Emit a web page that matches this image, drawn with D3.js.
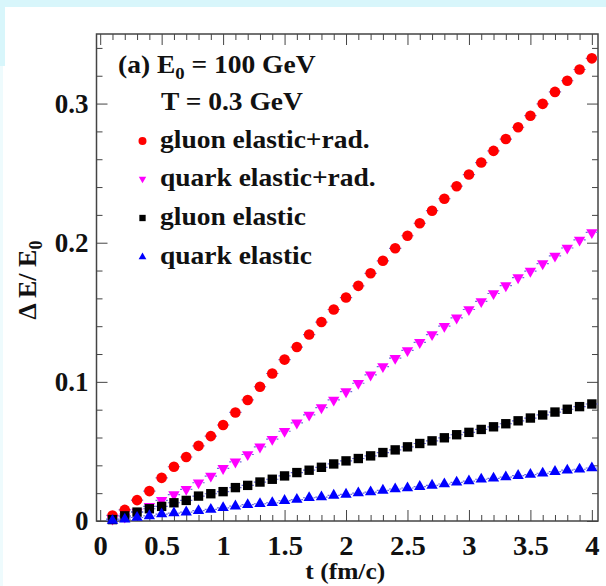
<!DOCTYPE html>
<html>
<head>
<meta charset="utf-8">
<script src="https://cdn.jsdelivr.net/npm/d3@7"></script>
<style>
body { margin: 0; background: #fff; }
svg text { font-family: "Liberation Serif", "Times New Roman", serif; font-weight: bold; fill: #111; }
</style>
</head>
<body>
<div id="chart"></div>
<script>

// t (fm/c) of each point
var tValues = [0.1,0.2,0.3,0.4,0.5,0.6,0.7,0.8,0.9,1.0,
               1.1,1.2,1.3,1.4,1.5,1.6,1.7,1.8,1.9,2.0,
               2.1,2.2,2.3,2.4,2.5,2.6,2.7,2.8,2.9,3.0,
               3.1,3.2,3.3,3.4,3.5,3.6,3.7,3.8,3.9,4.0];

// Delta E / E0
var gluonRad = [0.004,0.008,0.015,0.0215,0.031,0.039,0.046,0.054,0.061,0.069,
                0.078,0.087,0.0965,0.106,0.116,0.125,0.134,0.143,0.152,0.1606,
                0.169,0.178,0.187,0.196,0.205,0.214,0.223,0.2316,0.2406,0.249,
                0.2576,0.266,0.2745,0.283,0.2913,0.2998,0.3084,0.3164,0.3245,0.3325];
var quarkRad = [0.0015,0.003,0.0065,0.0105,0.0148,0.019,0.0228,0.0275,0.0323,0.0378,
                0.0425,0.0478,0.0533,0.0588,0.0645,0.0705,0.0762,0.0815,0.087,0.093,
                0.099,0.105,0.111,0.117,0.1226,0.1284,0.134,0.14,0.146,0.152,
                0.1578,0.1635,0.1692,0.1749,0.1796,0.185,0.1905,0.1962,0.202,0.2074];
var gluonEl = [0.001,0.0037,0.0064,0.0088,0.0105,0.0131,0.0148,0.0179,0.0196,0.0211,
               0.024,0.0256,0.028,0.03,0.0324,0.0348,0.0365,0.0386,0.041,0.0432,
               0.0449,0.0468,0.0492,0.0511,0.0533,0.0557,0.0576,0.0598,0.062,0.0637,
               0.0658,0.0677,0.0699,0.072,0.074,0.0762,0.0783,0.0803,0.0822,0.0841];
var quarkEl = [0.0004,0.0013,0.0025,0.0037,0.005,0.0057,0.0064,0.0074,0.0083,0.0095,
               0.0107,0.0117,0.0124,0.0131,0.0146,0.0154,0.0167,0.0172,0.0184,0.0191,
               0.0201,0.0208,0.022,0.023,0.0237,0.0247,0.0256,0.0266,0.0278,0.0287,
               0.03,0.0307,0.0316,0.0326,0.0334,0.0343,0.0355,0.0365,0.0372,0.0381];

var seriesNames = ["gluon elastic+rad.", "quark elastic+rad.", "gluon elastic", "quark elastic"];
var seriesColors = ["#ff0000", "#ff00ff", "#000000", "#0000ff"];

var xTicks = [0, 0.5, 1, 1.5, 2, 2.5, 3, 3.5, 4];
var xTickLabels = ["0", "0.5", "1", "1.5", "2", "2.5", "3", "3.5", "4"];
var yTicks = [0, 0.1, 0.2, 0.3];
var yTickLabels = ["0", "0.1", "0.2", "0.3"];

var W = 606, H = 586;
var frame = {left: 96.5, right: 598, top: 34, bottom: 521};
var stretch = 1.1; // the source picture is a little wider than tall

var svg = d3.select("#chart").append("svg")
    .attr("width", W)
    .attr("height", H);

// light cyan page border seen in the screenshot
svg.append("rect").attr("x", 0).attr("y", 0).attr("width", W).attr("height", 7).attr("fill", "#d8f6fb");
svg.append("rect").attr("x", 0).attr("y", 7).attr("width", 5).attr("height", 59).attr("fill", "#d8f6fb");
svg.append("rect").attr("x", 0).attr("y", 66).attr("width", 3).attr("height", H - 66).attr("fill", "#eefbfd");

var x = d3.scaleLinear().domain([-0.03, 4.05]).range([frame.left, frame.right]);
var y = d3.scaleLinear().domain([0, 0.35]).range([frame.bottom, frame.top]);

var xMinor = d3.range(0, 41).map(function(i){ return i / 10; }).filter(function(v){ return xTicks.indexOf(v) < 0; });
var yMinor = d3.range(0, 18).map(function(i){ return +(i * 0.02).toFixed(2); }).filter(function(v){ return yTicks.indexOf(v) < 0; });

function styleAxis(g){
    g.select(".domain").remove();
    g.selectAll(".tick line").attr("stroke", "#444").attr("stroke-width", 1);
}

// bottom
svg.append("g").attr("transform", "translate(0," + frame.bottom + ")")
    .call(d3.axisBottom(x).tickValues(xTicks).tickSizeInner(-11).tickPadding(15)
        .tickFormat(function(d, i){ return xTickLabels[i]; }))
    .call(styleAxis)
    .selectAll("text").style("font-size", "27px").attr("fill", "#111")
    .attr("transform", "scale(1.06,1)");
svg.append("g").attr("transform", "translate(0," + frame.bottom + ")")
    .call(d3.axisBottom(x).tickValues(xMinor).tickSizeInner(-6).tickFormat(""))
    .call(styleAxis);
// top
svg.append("g").attr("transform", "translate(0," + frame.top + ")")
    .call(d3.axisTop(x).tickValues(xTicks).tickSizeInner(-11).tickFormat(""))
    .call(styleAxis);
svg.append("g").attr("transform", "translate(0," + frame.top + ")")
    .call(d3.axisTop(x).tickValues(xMinor).tickSizeInner(-6).tickFormat(""))
    .call(styleAxis);
// left
svg.append("g").attr("transform", "translate(" + frame.left + ",0)")
    .call(d3.axisLeft(y).tickValues(yTicks).tickSizeInner(-11).tickPadding(8)
        .tickFormat(function(d, i){ return yTickLabels[i]; }))
    .call(styleAxis)
    .selectAll("text").style("font-size", "27px").attr("fill", "#111");
svg.append("g").attr("transform", "translate(" + frame.left + ",0)")
    .call(d3.axisLeft(y).tickValues(yMinor).tickSizeInner(-6).tickFormat(""))
    .call(styleAxis);
// right
svg.append("g").attr("transform", "translate(" + frame.right + ",0)")
    .call(d3.axisRight(y).tickValues(yTicks).tickSizeInner(-11).tickFormat(""))
    .call(styleAxis);
svg.append("g").attr("transform", "translate(" + frame.right + ",0)")
    .call(d3.axisRight(y).tickValues(yMinor).tickSizeInner(-6).tickFormat(""))
    .call(styleAxis);

svg.append("rect")
    .attr("x", frame.left).attr("y", frame.top)
    .attr("width", frame.right - frame.left).attr("height", frame.bottom - frame.top)
    .attr("fill", "none").attr("stroke", "#444").attr("stroke-width", 1.5);

// axis titles
svg.append("text")
    .attr("transform", "translate(" + ((frame.left + frame.right) / 2 - 2) + ",579) scale(1.06,1)")
    .attr("text-anchor", "middle")
    .style("font-size", "24px")
    .text("t (fm/c)");

var yTitle = svg.append("text")
    .attr("transform", "translate(36,280) rotate(-90)")
    .attr("text-anchor", "middle")
    .style("font-size", "26px");
yTitle.append("tspan").text("\u0394 E/ E");
yTitle.append("tspan").attr("dy", 6).style("font-size", "18px").text("0");

// data
var allSeries = [gluonRad, quarkRad, gluonEl, quarkEl];
var symbols = [
    {type: d3.symbolCircle, size: 88, rot: 0},
    {type: d3.symbolTriangle, size: 56, rot: 180},
    {type: d3.symbolSquare, size: 88, rot: 0},
    {type: d3.symbolTriangle, size: 56, rot: 0}
];
var legendSizes = [50, 24, 40, 26];

var plot = svg.append("g");

allSeries.forEach(function(vals, s){
    var pts = tValues.map(function(t, i){ return {t: t, v: vals[i]}; });
    var grp = plot.append("g");
    // x error bars (half bin width)
    grp.selectAll("line").data(pts).enter().append("line")
        .attr("x1", function(d){ return x(d.t - 0.05); })
        .attr("x2", function(d){ return x(d.t + 0.05); })
        .attr("y1", function(d){ return y(d.v); })
        .attr("y2", function(d){ return y(d.v); })
        .attr("stroke", "#6b6bdc")
        .attr("stroke-width", 1.2)
        .attr("stroke-dasharray", "2,1.5");
    grp.selectAll("path").data(pts).enter().append("path")
        .attr("d", d3.symbol().type(symbols[s].type).size(symbols[s].size))
        .attr("transform", function(d){
            return "translate(" + x(d.t) + "," + y(d.v) + ") rotate(" + symbols[s].rot + ")";
        })
        .attr("fill", seriesColors[s]);
});

// legend
function stretchedText(px, py, size){
    return svg.append("text")
        .attr("transform", "translate(" + px + "," + py + ") scale(" + stretch + ",1)")
        .style("font-size", size + "px");
}

var head = stretchedText(118, 73, 25);
head.append("tspan").text("(a) E");
head.append("tspan").attr("dy", 6).style("font-size", "17px").text("0");
head.append("tspan").attr("dy", -6).text(" = 100 GeV");

stretchedText(161, 110, 25).text("T = 0.3 GeV");

var legendY = [148, 186, 225, 264];
seriesNames.forEach(function(name, s){
    svg.append("path")
        .attr("d", d3.symbol().type(symbols[s].type).size(legendSizes[s]))
        .attr("transform", "translate(142.5," + (legendY[s] - 7) + ") rotate(" + symbols[s].rot + ")")
        .attr("fill", seriesColors[s]);
    stretchedText(160, legendY[s], 25).text(name);
});

</script>
</body>
</html>
